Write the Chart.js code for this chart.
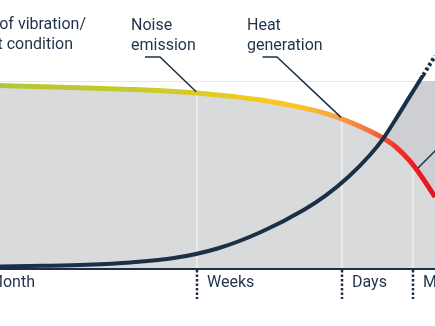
<!DOCTYPE html>
<html>
<head>
<meta charset="utf-8">
<script src="https://cdn.jsdelivr.net/npm/chart.js@4/dist/chart.umd.min.js"></script>
<style>
  html, body { margin: 0; padding: 0; background: #fff; }
  #wrap { width: 435px; height: 326px; overflow: hidden; }
</style>
</head>
<body>
<div id="wrap"><canvas id="pfChart" width="435" height="326"></canvas></div>
<script>
// time axis: 0 = left edge of the picture, 100 = right edge
const timePoints = [0, 10, 20, 30, 40, 50, 60, 70, 75, 80, 85, 88, 91, 94, 97, 100]
// equipment condition (%), the coloured curve
const conditionValues = [97.6, 97.0, 96.3, 95.5, 94.4, 92.6, 89.9, 85.6, 82.7, 78.5, 73.4, 69.7, 64.9, 58.0, 48.9, 38.3]
// damage, the dark rising curve
const damageValues = [1.3, 1.7, 2.3, 3.5, 5.8, 10.9, 19.7, 31.7, 39.3, 48.8, 60.5, 69.1, 79.8, 91.0, 102.1, 113.3]
// dotted continuation of the damage curve above the chart
const damageDotX = [97.3, 100]
const damageDotValues = [103.2, 113.3]

// phases along the bottom
const phaseStarts = [-4.8, 45.3, 78.6, 94.9]
const phaseLabels = ['Month', 'Weeks', 'Days', 'Minutes']

const navy = '#1b3047'
const textColor = '#1f3349'

function toPoints(xs, ys) {
    return xs.map((x, i) => ({ x: x, y: ys[i] }))
}

function conditionAt(x) {
    for (let i = 1; i < timePoints.length; i++) {
        if (x <= timePoints[i]) {
            const t = (x - timePoints[i - 1]) / (timePoints[i] - timePoints[i - 1])
            return conditionValues[i - 1] + t * (conditionValues[i] - conditionValues[i - 1])
        }
    }
    return conditionValues[conditionValues.length - 1]
}

function conditionGradient(context) {
    const chart = context.chart
    const area = chart.chartArea
    if (!area) return '#b2c735'
    const g = chart.ctx.createLinearGradient(area.left, 0, area.right, 0)
    g.addColorStop(0, '#b2c735')
    g.addColorStop(0.3, '#c6ca2d')
    g.addColorStop(0.45, '#dacb25')
    g.addColorStop(0.6, '#f2cb1f')
    g.addColorStop(0.68, '#fcc623')
    g.addColorStop(0.77, '#f9a444')
    g.addColorStop(0.85, '#f4743c')
    g.addColorStop(0.91, '#f0342c')
    g.addColorStop(0.95, '#ed1c24')
    g.addColorStop(1, '#e4141f')
    return g
}

//text labels with leader lines
const notes = [
    { lines: ['Change of vibration/', 'equipment condition'], x: [86, 73], base: [29, 48.5], align: 'right' },
    { lines: ['Noise', 'emission'], x: [131, 131], base: [30, 50], align: 'left', leader: [145, 160, 57], target: 45.1 },
    { lines: ['Heat', 'generation'], x: [247, 247], base: [30, 50], align: 'left', leader: [262.5, 277, 57], target: 78.4 }
]
const rightLeaderTarget = 96.1

const extras = {
    id: 'pfExtras',
    beforeDraw(chart) {
        const { ctx, chartArea } = chart
        ctx.save()
        ctx.strokeStyle = '#e6e6e6'
        ctx.lineWidth = 1
        ctx.beginPath()
        ctx.moveTo(chartArea.left, chartArea.top + 0.5)
        ctx.lineTo(chartArea.right, chartArea.top + 0.5)
        ctx.stroke()
        ctx.restore()
    },
    beforeDatasetsDraw(chart) {
        // runs after the filler, so grid lines sit on the grey but under the curves
        const { ctx, chartArea, scales } = chart
        const pts = chart.getDatasetMeta(1).data
        ctx.save()
        ctx.beginPath()
        pts.forEach((p, i) => i ? ctx.lineTo(p.x, p.y) : ctx.moveTo(p.x, p.y))
        ctx.lineTo(chartArea.right, chartArea.bottom)
        ctx.lineTo(chartArea.left, chartArea.bottom)
        ctx.closePath()
        ctx.clip()
        ctx.strokeStyle = '#ebebec'
        ctx.lineWidth = 2
        phaseStarts.slice(1).forEach(v => {
            const x = scales.x.getPixelForValue(v)
            ctx.beginPath()
            ctx.moveTo(x, chartArea.top)
            ctx.lineTo(x, chartArea.bottom)
            ctx.stroke()
        })
        ctx.restore()
    },
    afterDraw(chart) {
        const { ctx, chartArea, scales } = chart
        ctx.save()

        // axis line
        ctx.strokeStyle = navy
        ctx.lineWidth = 2
        ctx.beginPath()
        ctx.moveTo(chartArea.left, chartArea.bottom)
        ctx.lineTo(chartArea.right, chartArea.bottom)
        ctx.stroke()

        // dotted ticks and phase labels
        ctx.font = '16px Roboto'
        ctx.fillStyle = textColor
        ctx.textAlign = 'left'
        ctx.textBaseline = 'alphabetic'
        phaseStarts.forEach((v, i) => {
            const x = Math.round(scales.x.getPixelForValue(v))
            ctx.lineWidth = 2.5
            ctx.setLineDash([2.5, 2])
            ctx.beginPath()
            ctx.moveTo(x, chartArea.bottom + 1)
            ctx.lineTo(x, chartArea.bottom + 30)
            ctx.stroke()
            ctx.setLineDash([])
            ctx.fillText(phaseLabels[i], x + 10, 287)
        })

        // notes
        notes.forEach(n => {
            ctx.textAlign = n.align
            n.lines.forEach((t, i) => ctx.fillText(t, n.x[i], n.base[i]))
            if (n.leader) {
                const tx = scales.x.getPixelForValue(n.target)
                const ty = scales.y.getPixelForValue(conditionAt(n.target)) - 1.5
                ctx.lineWidth = 1.5
                ctx.beginPath()
                ctx.moveTo(n.leader[0], n.leader[2])
                ctx.lineTo(n.leader[1], n.leader[2])
                ctx.lineTo(tx, ty)
                ctx.stroke()
            }
        })

        // leader towards a label outside the picture
        const rx = scales.x.getPixelForValue(rightLeaderTarget)
        const ry = scales.y.getPixelForValue(conditionAt(rightLeaderTarget)) - 4
        ctx.lineWidth = 1.5
        ctx.beginPath()
        ctx.moveTo(rx, ry)
        ctx.lineTo(rx + 30, ry - 30)
        ctx.stroke()

        ctx.restore()
    }
}

const pfChart = new Chart(document.getElementById('pfChart'), {
    type: 'line',
    data: {
        datasets: [
            {
                label: 'Damage',
                data: toPoints(timePoints, damageValues),
                borderColor: navy,
                borderWidth: 4,
                fill: false,
                order: 0,
                clip: { left: 0, top: 6, right: 0, bottom: 0 }
            },
            {
                label: 'Condition',
                data: toPoints(timePoints, conditionValues),
                borderColor: conditionGradient,
                borderWidth: 5,
                backgroundColor: '#d9dadc',
                fill: 'start',
                order: 1
            },
            {
                label: 'Damage area',
                data: toPoints(timePoints, damageValues),
                borderWidth: 0,
                borderColor: 'rgba(0,0,0,0)',
                backgroundColor: '#cecfd2',
                fill: 'start',
                order: 2
            },
            {
                label: 'Damage (continued)',
                data: toPoints(damageDotX, damageDotValues),
                borderColor: navy,
                borderWidth: 4,
                borderDash: [3, 2.5],
                fill: false,
                order: 0,
                clip: false
            }
        ]
    },
    options: {
        responsive: false,
        animation: false,
        events: [],
        layout: { padding: { top: 81, bottom: 57, left: 0, right: 0 } },
        elements: {
            point: { radius: 0 },
            line: { cubicInterpolationMode: 'monotone' }
        },
        scales: {
            x: { type: 'linear', min: 0, max: 100, display: false },
            y: { min: 0, max: 100, display: false }
        },
        plugins: {
            legend: { display: false },
            tooltip: { enabled: false },
            filler: { drawTime: 'beforeDatasetsDraw' }
        }
    },
    plugins: [extras]
})
</script>
</body>
</html>
